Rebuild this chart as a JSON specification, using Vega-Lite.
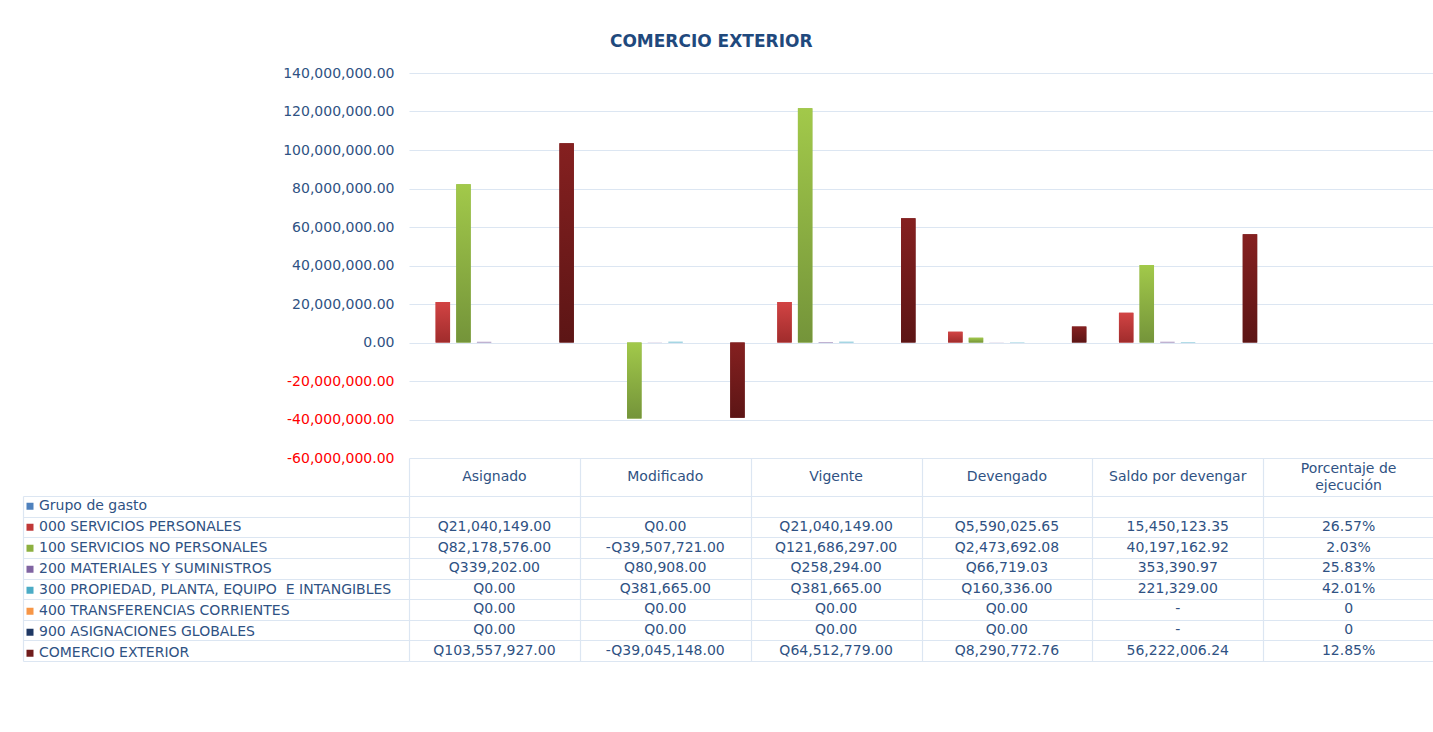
{
  "$schema": "https://vega.github.io/schema/vega-lite/v6.json",
  "padding": {"left": 22, "top": 33, "right": 0, "bottom": 0},
  "autosize": {"type": "pad"},
  "bounds": "flush",
  "spacing": 0,
  "title": {"text": "COMERCIO EXTERIOR", "font": "DejaVu Sans", "fontSize": 17, "fontWeight": "bold", "color": "#1F497D", "anchor": "middle", "offset": 15, "dx": -17},
  "config": {
    "view": {"stroke": null},
    "font": "DejaVu Sans",
    "text": {"font": "DejaVu Sans"}
  },
  "datasets": {
    "rows": [
      {"grupo": "\u2002000 SERVICIOS PERSONALES", "col": "Asignado", "value": 21040149, "txt": "Q21,040,149.00"},
      {"grupo": "\u2002000 SERVICIOS PERSONALES", "col": "Modificado", "value": 0, "txt": "Q0.00"},
      {"grupo": "\u2002000 SERVICIOS PERSONALES", "col": "Vigente", "value": 21040149, "txt": "Q21,040,149.00"},
      {"grupo": "\u2002000 SERVICIOS PERSONALES", "col": "Devengado", "value": 5590025.65, "txt": "Q5,590,025.65"},
      {"grupo": "\u2002000 SERVICIOS PERSONALES", "col": "Saldo por devengar", "value": 15450123.35, "txt": "15,450,123.35"},
      {"grupo": "\u2002000 SERVICIOS PERSONALES", "col": "Porcentaje de ejecución", "value": 0.2657, "txt": "26.57%"},
      {"grupo": "\u2002100 SERVICIOS NO PERSONALES", "col": "Asignado", "value": 82178576, "txt": "Q82,178,576.00"},
      {"grupo": "\u2002100 SERVICIOS NO PERSONALES", "col": "Modificado", "value": -39507721, "txt": "-Q39,507,721.00"},
      {"grupo": "\u2002100 SERVICIOS NO PERSONALES", "col": "Vigente", "value": 121686297, "txt": "Q121,686,297.00"},
      {"grupo": "\u2002100 SERVICIOS NO PERSONALES", "col": "Devengado", "value": 2473692.08, "txt": "Q2,473,692.08"},
      {"grupo": "\u2002100 SERVICIOS NO PERSONALES", "col": "Saldo por devengar", "value": 40197162.92, "txt": "40,197,162.92"},
      {"grupo": "\u2002100 SERVICIOS NO PERSONALES", "col": "Porcentaje de ejecución", "value": 0.0203, "txt": "2.03%"},
      {"grupo": "200 MATERIALES Y SUMINISTROS", "col": "Asignado", "value": 339202, "txt": "Q339,202.00"},
      {"grupo": "200 MATERIALES Y SUMINISTROS", "col": "Modificado", "value": 80908, "txt": "Q80,908.00"},
      {"grupo": "200 MATERIALES Y SUMINISTROS", "col": "Vigente", "value": 258294, "txt": "Q258,294.00"},
      {"grupo": "200 MATERIALES Y SUMINISTROS", "col": "Devengado", "value": 66719.03, "txt": "Q66,719.03"},
      {"grupo": "200 MATERIALES Y SUMINISTROS", "col": "Saldo por devengar", "value": 353390.97, "txt": "353,390.97"},
      {"grupo": "200 MATERIALES Y SUMINISTROS", "col": "Porcentaje de ejecución", "value": 0.2583, "txt": "25.83%"},
      {"grupo": "\u2002300 PROPIEDAD, PLANTA, EQUIPO\u00a0\u00a0E INTANGIBLES", "col": "Asignado", "value": 0, "txt": "Q0.00"},
      {"grupo": "\u2002300 PROPIEDAD, PLANTA, EQUIPO\u00a0\u00a0E INTANGIBLES", "col": "Modificado", "value": 381665, "txt": "Q381,665.00"},
      {"grupo": "\u2002300 PROPIEDAD, PLANTA, EQUIPO\u00a0\u00a0E INTANGIBLES", "col": "Vigente", "value": 381665, "txt": "Q381,665.00"},
      {"grupo": "\u2002300 PROPIEDAD, PLANTA, EQUIPO\u00a0\u00a0E INTANGIBLES", "col": "Devengado", "value": 160336, "txt": "Q160,336.00"},
      {"grupo": "\u2002300 PROPIEDAD, PLANTA, EQUIPO\u00a0\u00a0E INTANGIBLES", "col": "Saldo por devengar", "value": 221329, "txt": "221,329.00"},
      {"grupo": "\u2002300 PROPIEDAD, PLANTA, EQUIPO\u00a0\u00a0E INTANGIBLES", "col": "Porcentaje de ejecución", "value": 0.4201, "txt": "42.01%"},
      {"grupo": "400 TRANSFERENCIAS CORRIENTES", "col": "Asignado", "value": 0, "txt": "Q0.00"},
      {"grupo": "400 TRANSFERENCIAS CORRIENTES", "col": "Modificado", "value": 0, "txt": "Q0.00"},
      {"grupo": "400 TRANSFERENCIAS CORRIENTES", "col": "Vigente", "value": 0, "txt": "Q0.00"},
      {"grupo": "400 TRANSFERENCIAS CORRIENTES", "col": "Devengado", "value": 0, "txt": "Q0.00"},
      {"grupo": "400 TRANSFERENCIAS CORRIENTES", "col": "Saldo por devengar", "value": null, "txt": "-"},
      {"grupo": "400 TRANSFERENCIAS CORRIENTES", "col": "Porcentaje de ejecución", "value": 0, "txt": "0"},
      {"grupo": "900 ASIGNACIONES GLOBALES", "col": "Asignado", "value": 0, "txt": "Q0.00"},
      {"grupo": "900 ASIGNACIONES GLOBALES", "col": "Modificado", "value": 0, "txt": "Q0.00"},
      {"grupo": "900 ASIGNACIONES GLOBALES", "col": "Vigente", "value": 0, "txt": "Q0.00"},
      {"grupo": "900 ASIGNACIONES GLOBALES", "col": "Devengado", "value": 0, "txt": "Q0.00"},
      {"grupo": "900 ASIGNACIONES GLOBALES", "col": "Saldo por devengar", "value": null, "txt": "-"},
      {"grupo": "900 ASIGNACIONES GLOBALES", "col": "Porcentaje de ejecución", "value": 0, "txt": "0"},
      {"grupo": "\u2002\u2002COMERCIO EXTERIOR", "col": "Asignado", "value": 103557927, "txt": "Q103,557,927.00"},
      {"grupo": "\u2002\u2002COMERCIO EXTERIOR", "col": "Modificado", "value": -39045148, "txt": "-Q39,045,148.00"},
      {"grupo": "\u2002\u2002COMERCIO EXTERIOR", "col": "Vigente", "value": 64512779, "txt": "Q64,512,779.00"},
      {"grupo": "\u2002\u2002COMERCIO EXTERIOR", "col": "Devengado", "value": 8290772.76, "txt": "Q8,290,772.76"},
      {"grupo": "\u2002\u2002COMERCIO EXTERIOR", "col": "Saldo por devengar", "value": 56222006.24, "txt": "56,222,006.24"},
      {"grupo": "\u2002\u2002COMERCIO EXTERIOR", "col": "Porcentaje de ejecución", "value": 0.1285, "txt": "12.85%"}
    ],
    "headers": [
      {"col": "Asignado", "label": "Asignado", "lines": 1},
      {"col": "Modificado", "label": "Modificado", "lines": 1},
      {"col": "Vigente", "label": "Vigente", "lines": 1},
      {"col": "Devengado", "label": "Devengado", "lines": 1},
      {"col": "Saldo por devengar", "label": "Saldo por devengar", "lines": 1},
      {"col": "Porcentaje de ejecución", "label": "Porcentaje de\nejecución", "lines": 2}
    ]
  },
  "vconcat": [
    {
      "width": 1025,
      "height": 385,
      "data": {"name": "rows"},
      "encoding": {
        "x": {"field": "col", "type": "nominal", "axis": null,
              "scale": {"domain": ["Asignado", "Modificado", "Vigente", "Devengado", "Saldo por devengar", "Porcentaje de ejecución"], "paddingInner": 0.07, "paddingOuter": 0.035}},
        "xOffset": {"field": "grupo", "type": "nominal",
              "scale": {"domain": ["Grupo de gasto", "\u2002000 SERVICIOS PERSONALES", "\u2002100 SERVICIOS NO PERSONALES", "200 MATERIALES Y SUMINISTROS", "\u2002300 PROPIEDAD, PLANTA, EQUIPO\u00a0\u00a0E INTANGIBLES", "400 TRANSFERENCIAS CORRIENTES", "900 ASIGNACIONES GLOBALES", "\u2002\u2002COMERCIO EXTERIOR"], "paddingInner": 0.3, "paddingOuter": 0}},
        "y": {"field": "value", "type": "quantitative",
              "scale": {"domain": [-60000000, 140000000], "nice": false},
              "axis": {"title": null, "values": [-60000000, -40000000, -20000000, 0, 20000000, 40000000, 60000000, 80000000, 100000000, 120000000, 140000000],
                       "labelExpr": "replace(format(datum.value, ',.2f'), '−', '-')",
                       "labelColor": {"condition": {"test": "datum.value < 0", "value": "#FF0000"}, "value": "#2F5283"},
                       "labelFontSize": 14, "labelFont": "DejaVu Sans", "labelPadding": 15,
                       "ticks": false, "domain": false, "grid": true, "gridColor": "#DCE6F2", "gridWidth": 1.2}}
      },
      "layer": [
        {
          "mark": {"type": "bar"},
          "encoding": {
            "color": {"field": "grupo", "type": "nominal",
              "scale": {"domain": ["Grupo de gasto", "\u2002000 SERVICIOS PERSONALES", "\u2002100 SERVICIOS NO PERSONALES", "200 MATERIALES Y SUMINISTROS", "\u2002300 PROPIEDAD, PLANTA, EQUIPO\u00a0\u00a0E INTANGIBLES", "400 TRANSFERENCIAS CORRIENTES", "900 ASIGNACIONES GLOBALES", "\u2002\u2002COMERCIO EXTERIOR"],
                        "range": ["#4F81BD", "#C03838", "#8DB040", "#8064A2", "#4BACC6", "#F79646", "#1F3864", "#701C1C"]},
              "legend": {"orient": "none", "legendX": -386, "legendY": 423, "title": null, "symbolType": "square", "symbolSize": 49, "symbolStrokeWidth": 0, "symbolOpacity": 1,
                         "labelFontSize": 14, "labelFont": "DejaVu Sans", "labelColor": "#2F5283", "labelOffset": 2, "labelLimit": 400,
                         "clipHeight": 20.625, "rowPadding": 0, "padding": 0}}
          }
        },
        {
          "transform": [{"filter": "datum.grupo == '\u2002000 SERVICIOS PERSONALES'"}],
          "mark": {"type": "bar", "fill": {"gradient": "linear", "x1": 0, "y1": 0, "x2": 0, "y2": 1, "stops": [{"offset": 0, "color": "#D24444"}, {"offset": 1, "color": "#A02C2C"}]}}
        },
        {
          "transform": [{"filter": "datum.grupo == '\u2002100 SERVICIOS NO PERSONALES'"}],
          "mark": {"type": "bar", "fill": {"gradient": "linear", "x1": 0, "y1": 0, "x2": 0, "y2": 1, "stops": [{"offset": 0, "color": "#A2C94A"}, {"offset": 1, "color": "#74943A"}]}}
        },
        {
          "transform": [{"filter": "datum.grupo == '\u2002\u2002COMERCIO EXTERIOR'"}],
          "mark": {"type": "bar", "fill": {"gradient": "linear", "x1": 0, "y1": 0, "x2": 0, "y2": 1, "stops": [{"offset": 0, "color": "#852020"}, {"offset": 1, "color": "#5C1515"}]}}
        }
      ]
    },
    {
      "width": 1025,
      "height": 38,
      "data": {"name": "headers"},
      "encoding": {
        "x": {"field": "col", "type": "nominal",
              "scale": {"domain": ["Asignado", "Modificado", "Vigente", "Devengado", "Saldo por devengar", "Porcentaje de ejecución"], "paddingInner": 0, "paddingOuter": 0},
              "axis": {"title": null, "labels": false, "ticks": false, "domain": false, "grid": true, "tickBand": "extent", "gridColor": "#DCE6F2", "gridWidth": 1.2}},
        "text": {"field": "label"}
      },
      "layer": [
        {
          "transform": [{"filter": "datum.lines == 1"}],
          "mark": {"type": "text", "fontSize": 14, "font": "DejaVu Sans", "color": "#2F5283"}
        },
        {
          "transform": [{"filter": "datum.lines == 2"}],
          "mark": {"type": "text", "fontSize": 14, "font": "DejaVu Sans", "color": "#2F5283", "lineBreak": "\n", "lineHeight": 17, "dy": -8}
        }
      ]
    },
    {
      "width": 1025,
      "height": 165,
      "data": {"name": "rows"},
      "mark": {"type": "text", "fontSize": 14, "font": "DejaVu Sans", "color": "#2F5283"},
      "encoding": {
        "x": {"field": "col", "type": "nominal",
              "scale": {"domain": ["Asignado", "Modificado", "Vigente", "Devengado", "Saldo por devengar", "Porcentaje de ejecución"], "paddingInner": 0, "paddingOuter": 0},
              "axis": {"title": null, "labels": false, "ticks": false, "domain": false, "grid": true, "tickBand": "extent", "gridColor": "#DCE6F2", "gridWidth": 1.2}},
        "y": {"field": "grupo", "type": "nominal",
              "scale": {"domain": ["Grupo de gasto", "\u2002000 SERVICIOS PERSONALES", "\u2002100 SERVICIOS NO PERSONALES", "200 MATERIALES Y SUMINISTROS", "\u2002300 PROPIEDAD, PLANTA, EQUIPO\u00a0\u00a0E INTANGIBLES", "400 TRANSFERENCIAS CORRIENTES", "900 ASIGNACIONES GLOBALES", "\u2002\u2002COMERCIO EXTERIOR"], "paddingInner": 0, "paddingOuter": 0},
              "axis": {"title": null, "offset": 386, "domain": true, "domainColor": "#DCE6F2", "domainWidth": 1.2,
                       "ticks": true, "tickSize": -386, "tickColor": "#DCE6F2", "tickWidth": 1.2, "tickBand": "extent",
                       "grid": true, "gridColor": "#DCE6F2", "gridWidth": 1.2, "labels": false}},
        "text": {"field": "txt"}
      }
    }
  ]
}
